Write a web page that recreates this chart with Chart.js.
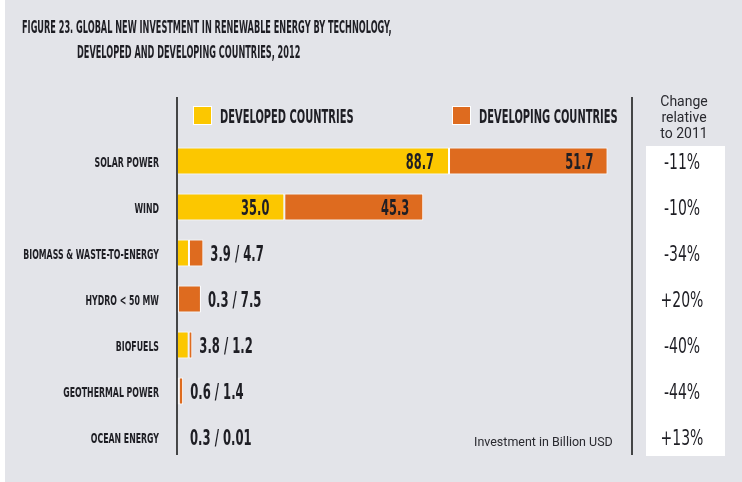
<!DOCTYPE html>
<html>
<head>
<meta charset="utf-8">
<script src="https://cdn.jsdelivr.net/npm/chart.js@4"></script>
<style>
  html, body { margin: 0; padding: 0; background: #ffffff; }
  #wrap { width: 742px; height: 482px; position: relative; }
  canvas { display: block; }
</style>
</head>
<body>
<div id="wrap"><canvas id="c" width="742" height="482"></canvas></div>
<script>
// ---- data ----
const titleLines = [
  'FIGURE 23. GLOBAL NEW INVESTMENT IN RENEWABLE ENERGY BY TECHNOLOGY,',
  'DEVELOPED AND DEVELOPING COUNTRIES, 2012'
];
const categories = ['SOLAR POWER', 'WIND', 'BIOMASS & WASTE-TO-ENERGY', 'HYDRO < 50 MW', 'BIOFUELS', 'GEOTHERMAL POWER', 'OCEAN ENERGY'];
const seriesNames = ['DEVELOPED COUNTRIES', 'DEVELOPING COUNTRIES'];
const developed = [88.7, 35.0, 3.9, 0.3, 3.8, 0.6, 0.3];
const developing = [51.7, 45.3, 4.7, 7.5, 1.2, 1.4, 0.01];
const changeHeader = ['Change', 'relative', 'to 2011'];
const changeLabels = ['-11%', '-10%', '-34%', '+20%', '-40%', '-44%', '+13%'];
const unitNote = 'Investment in Billion USD';

// ---- styles ----
const YELLOW = '#FCC700';
const ORANGE = '#DE6B1F';
const BG = '#E3E4E9';
const INK = '#1E1E24';
const COND = '"DejaVu Sans Condensed", "DejaVu Sans", sans-serif';

function txt(ctx, s, x, y, font, opts) {
  opts = opts || {};
  ctx.save();
  ctx.font = font;
  ctx.fillStyle = opts.color || INK;
  ctx.textAlign = opts.align || 'left';
  ctx.textBaseline = opts.baseline || 'alphabetic';
  ctx.translate(x, y);
  ctx.scale(opts.sx || 1, 1);
  ctx.fillText(s, 0, 0);
  ctx.restore();
}
function fmt(v) { return v < 0.1 ? String(v) : v.toFixed(1); }

const decor = {
  id: 'decor',
  beforeDraw(chart) {
    const ctx = chart.ctx;
    ctx.save();
    ctx.fillStyle = '#ffffff';
    ctx.fillRect(0, 0, chart.width, chart.height);
    ctx.fillStyle = BG;
    ctx.fillRect(5, 0, chart.width - 5, chart.height);
    // white change column
    ctx.fillStyle = '#ffffff';
    ctx.fillRect(646, 146, 79, 310);
    ctx.restore();

    // title
    txt(ctx, titleLines[0], 22, 32.5, 'bold 17px ' + COND, { sx: 0.535 });
    txt(ctx, titleLines[1], 77, 57.5, 'bold 17px ' + COND, { sx: 0.535 });

    // legend
    const colors = [YELLOW, ORANGE];
    const lx = [193, 452];
    for (let k = 0; k < 2; k++) {
      ctx.save();
      ctx.fillStyle = '#ffffff';
      ctx.fillRect(lx[k], 106, 19, 19);
      ctx.fillStyle = colors[k];
      ctx.fillRect(lx[k] + 1, 107, 17, 17);
      ctx.restore();
      txt(ctx, seriesNames[k], lx[k] + 27, 123, 'bold 19px ' + COND, { sx: 0.58 });
    }

    // change header
    changeHeader.forEach((s, i) => {
      txt(ctx, s, 684, 106 + i * 16, '14px Roboto', { align: 'center', color: '#2a2a30' });
    });

    // unit note
    txt(ctx, unitNote, 474, 446, '13px Roboto', { sx: 0.96, color: '#2a2a30' });
  },
  afterDatasetsDraw(chart) {
    const ctx = chart.ctx;
    const ys = chart.scales.y;
    const xs = chart.scales.x;
    const left = chart.chartArea.left;

    // axis lines
    ctx.save();
    ctx.strokeStyle = '#111111';
    ctx.lineWidth = 1.5;
    ctx.beginPath();
    ctx.moveTo(left, 97); ctx.lineTo(left, 455);
    ctx.moveTo(632, 97); ctx.lineTo(632, 455);
    ctx.stroke();
    ctx.restore();

    categories.forEach((c, i) => {
      const y = ys.getPixelForValue(i);
      // category labels
      txt(ctx, c, left - 18, y + 5.5, 'bold 14.5px ' + COND, { align: 'right', sx: 0.6 });
      // value labels
      const d = developed[i], g = developing[i];
      if (d >= 20) {
        const x1 = xs.getPixelForValue(d);
        const x2 = xs.getPixelForValue(d + g);
        txt(ctx, fmt(d), x1 - 15, y + 7.5, 'bold 20.5px ' + COND, { align: 'right', sx: 0.62 });
        txt(ctx, fmt(g), x2 - 14, y + 7.5, 'bold 20.5px ' + COND, { align: 'right', sx: 0.62 });
      } else {
        const x2 = xs.getPixelForValue(d + g);
        txt(ctx, fmt(d) + ' / ' + fmt(g), Math.max(x2, left + 6) + 7, y + 8, 'bold 20.5px ' + COND, { sx: 0.63 });
      }
      // change labels
      txt(ctx, changeLabels[i], 682, y + 8, '21px ' + COND, { align: 'center', sx: 0.74 });
    });
  }
};

new Chart(document.getElementById('c'), {
  type: 'bar',
  data: {
    labels: categories,
    datasets: [
      { label: seriesNames[0], data: developed, backgroundColor: YELLOW, borderColor: '#ffffff', borderWidth: 1, borderSkipped: false },
      { label: seriesNames[1], data: developing, backgroundColor: ORANGE, borderColor: '#ffffff', borderWidth: 1, borderSkipped: false }
    ]
  },
  options: {
    indexAxis: 'y',
    responsive: false,
    animation: false,
    events: [],
    layout: { padding: { left: 0, top: 138, right: 105, bottom: 22 } },
    datasets: { bar: { categoryPercentage: 1, barPercentage: 0.59 } },
    scales: {
      x: { type: 'linear', min: 0, max: 150, stacked: true, display: false },
      y: {
        stacked: true,
        grid: { display: false },
        border: { display: false },
        ticks: { display: false },
        afterFit(s) { s.width = 177; }
      }
    },
    plugins: { legend: { display: false }, tooltip: { enabled: false }, title: { display: false } }
  },
  plugins: [decor]
});
</script>
</body>
</html>
